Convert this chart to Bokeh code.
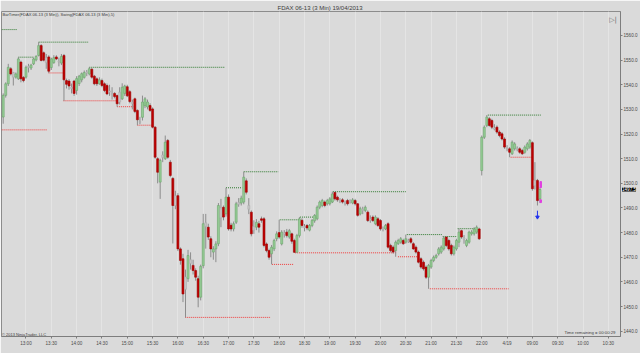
from bokeh.plotting import figure
from bokeh.models import Range1d, FixedTicker, NumeralTickFormatter, Label, ColumnDataSource
from bokeh.embed import file_html
from bokeh.resources import INLINE

# ---------------- data (3-min FDAX 06-13 bars) ----------------
open_ = [1526.9, 1535.7, 1540.4, 1546.5, 1545.0, 1543.1, 1542.4, 1549.2, 1543.0, 1543.1,
         1547.5, 1546.8, 1548.5, 1550.1, 1551.9, 1555.9, 1553.0, 1551.0, 1551.3, 1547.0,
         1549.0, 1551.3, 1549.5, 1548.8, 1551.9, 1541.7, 1541.5, 1539.0, 1541.5, 1537.7,
         1540.5, 1542.0, 1543.0, 1545.2, 1544.4, 1546.3, 1543.5, 1542.4, 1540.4, 1541.7,
         1540.4, 1539.7, 1537.5, 1536.5, 1536.5, 1535.6, 1533.0, 1534.3, 1536.5, 1539.2,
         1537.2, 1532.8, 1534.3, 1529.6, 1525.0, 1526.8, 1531.5, 1531.0, 1531.6, 1530.2,
         1522.8, 1510.0, 1500.5, 1511.5, 1510.0, 1517.4, 1508.6, 1502.0, 1491.0, 1495.0,
         1473.4, 1469.4, 1457.0, 1461.3, 1467.5, 1466.7, 1464.6, 1461.3, 1453.8, 1466.6,
         1484.0, 1482.2, 1477.5, 1472.1, 1473.4, 1475.5, 1490.0, 1490.3, 1487.6, 1494.4,
         1483.0, 1481.5, 1484.2, 1491.5, 1492.0, 1492.4, 1501.0, 1491.0, 1488.3, 1481.0,
         1482.2, 1483.6, 1485.6, 1485.6, 1475.4, 1472.7, 1471.4, 1473.4, 1477.5, 1480.0,
         1475.4, 1479.8, 1480.2, 1478.2, 1479.5, 1476.8, 1472.0, 1478.8, 1485.0, 1482.5,
         1482.9, 1481.0, 1482.9, 1484.8, 1485.6, 1490.3, 1491.0, 1492.4, 1491.7, 1491.7,
         1492.4, 1496.3, 1494.4, 1493.0, 1493.3, 1492.0, 1493.0, 1492.8, 1492.0, 1493.0,
         1491.7, 1487.6, 1489.5, 1489.0, 1488.3, 1485.5, 1486.3, 1483.6, 1485.6, 1484.9,
         1481.8, 1481.5, 1483.6, 1474.8, 1474.1, 1472.7, 1475.5, 1476.1, 1476.8, 1476.1,
         1476.8, 1477.5, 1475.5, 1474.1, 1472.1, 1469.4, 1468.0, 1466.0, 1461.9, 1466.0,
         1468.7, 1470.0, 1471.4, 1472.1, 1473.4, 1478.2, 1476.8, 1474.8, 1471.4, 1473.4,
         1476.1, 1480.8, 1477.8, 1474.8, 1476.1, 1479.5, 1479.5, 1480.2, 1481.5,
         1505.2, 1518.7, 1523.5, 1526.2, 1525.5, 1522.5, 1522.8, 1520.8, 1520.1, 1518.0,
         1514.4, 1514.0, 1512.0, 1514.0, 1514.2, 1514.0, 1513.3, 1512.6, 1514.0, 1514.7,
         1516.5, 1499.0, 1501.2, 1493.7]
high = [1536.5, 1541.0, 1548.5, 1547.2, 1545.2, 1545.0, 1551.2, 1549.8, 1543.5, 1547.8,
        1548.5, 1548.5, 1551.0, 1552.0, 1557.3, 1556.5, 1553.5, 1552.5, 1552.0, 1551.0,
        1552.0, 1552.0, 1551.0, 1552.5, 1552.5, 1542.5, 1542.3, 1540.5, 1542.0, 1543.5,
        1544.0, 1545.0, 1545.8, 1546.0, 1547.1, 1546.8, 1544.0, 1543.0, 1543.0, 1542.5,
        1541.0, 1540.5, 1540.0, 1539.0, 1537.0, 1536.0, 1539.0, 1540.6, 1540.0, 1540.0,
        1537.8, 1534.0, 1534.8, 1530.0, 1527.0, 1535.6, 1535.0, 1534.0, 1532.5, 1530.8,
        1523.2, 1510.6, 1510.0, 1513.0, 1519.4, 1518.0, 1509.5, 1502.5, 1497.0, 1496.0,
        1474.0, 1471.4, 1465.0, 1473.0, 1472.0, 1469.0, 1465.5, 1462.5, 1467.0, 1487.6,
        1487.6, 1483.6, 1478.5, 1474.5, 1476.5, 1492.0, 1493.7, 1491.0, 1498.2, 1495.5,
        1484.0, 1484.5, 1492.5, 1494.0, 1495.0, 1504.7, 1502.0, 1494.0, 1489.0, 1485.0,
        1485.5, 1484.8, 1486.5, 1486.3, 1476.0, 1473.5, 1475.0, 1477.5, 1480.5, 1485.2,
        1481.0, 1481.0, 1481.5, 1481.5, 1480.0, 1477.5, 1479.5, 1486.3, 1485.8, 1483.5,
        1483.5, 1483.5, 1485.5, 1487.5, 1491.0, 1493.0, 1493.7, 1493.0, 1493.7, 1494.4,
        1496.6, 1496.5, 1495.0, 1494.0, 1494.0, 1493.0, 1493.7, 1493.5, 1494.0, 1493.7,
        1492.0, 1490.5, 1490.5, 1491.0, 1489.0, 1487.0, 1487.0, 1487.0, 1486.3, 1485.5,
        1482.5, 1483.5, 1484.2, 1475.5, 1474.8, 1476.8, 1477.5, 1478.2, 1477.5, 1479.2,
        1477.5, 1478.2, 1476.1, 1474.8, 1472.7, 1470.0, 1468.7, 1466.7, 1467.3, 1469.4,
        1470.7, 1471.4, 1474.1, 1474.8, 1478.4, 1478.3, 1477.5, 1475.5, 1474.8, 1477.5,
        1481.6, 1481.2, 1479.0, 1477.5, 1480.8, 1481.0, 1482.2, 1482.9, 1482.0,
        1519.4, 1523.5, 1527.7, 1526.9, 1526.2, 1524.0, 1523.5, 1521.5, 1520.8, 1518.7,
        1515.5, 1514.7, 1517.4, 1516.7, 1515.0, 1514.7, 1514.0, 1515.4, 1516.7, 1518.0,
        1517.0, 1508.6, 1501.8, 1498.5]
low = [1524.2, 1534.8, 1539.5, 1543.8, 1539.7, 1542.5, 1542.0, 1541.0, 1541.0, 1542.5,
       1545.0, 1546.0, 1548.0, 1549.5, 1551.5, 1549.5, 1549.5, 1546.5, 1544.8, 1546.0,
       1548.5, 1550.0, 1547.5, 1548.0, 1533.5, 1538.5, 1538.0, 1536.5, 1535.5, 1536.0,
       1539.5, 1541.0, 1542.5, 1543.5, 1543.8, 1542.5, 1539.8, 1539.5, 1540.0, 1539.0,
       1537.0, 1535.8, 1535.5, 1534.0, 1534.5, 1531.1, 1532.0, 1533.8, 1535.5, 1535.0,
       1532.5, 1530.0, 1528.5, 1523.6, 1524.0, 1525.5, 1530.5, 1530.0, 1529.0, 1522.3,
       1510.0, 1500.0, 1493.7, 1508.6, 1509.5, 1510.0, 1502.5, 1475.6, 1489.5, 1472.5,
       1467.0, 1451.8, 1445.6, 1460.0, 1465.0, 1463.0, 1460.5, 1449.7, 1452.5, 1465.5,
       1473.5, 1477.0, 1470.0, 1469.0, 1468.0, 1474.5, 1482.2, 1485.0, 1486.5, 1480.8,
       1480.5, 1480.5, 1483.5, 1490.5, 1491.0, 1491.5, 1495.5, 1487.5, 1478.5, 1479.5,
       1481.0, 1480.0, 1484.0, 1474.0, 1472.0, 1469.0, 1467.1, 1472.5, 1476.5, 1477.5,
       1474.8, 1478.0, 1478.0, 1477.5, 1475.5, 1471.8, 1471.9, 1478.0, 1482.0, 1480.5,
       1481.0, 1480.5, 1482.2, 1484.0, 1485.0, 1489.5, 1490.3, 1490.3, 1491.0, 1491.0,
       1492.0, 1493.0, 1492.5, 1492.0, 1491.8, 1491.0, 1491.0, 1491.8, 1491.5, 1491.0,
       1486.5, 1487.0, 1487.5, 1488.3, 1484.3, 1484.0, 1484.3, 1483.0, 1482.3, 1480.8,
       1480.5, 1481.0, 1473.5, 1472.0, 1471.5, 1470.2, 1475.0, 1475.5, 1475.0, 1475.5,
       1475.8, 1475.5, 1473.0, 1471.5, 1467.5, 1465.3, 1464.6, 1461.2, 1457.2, 1465.3,
       1468.0, 1469.4, 1470.7, 1471.4, 1472.7, 1474.1, 1472.7, 1470.7, 1470.7, 1472.7,
       1474.1, 1477.5, 1475.5, 1474.1, 1475.5, 1478.8, 1478.8, 1479.5, 1477.0,
       1503.2, 1518.0, 1522.8, 1523.0, 1522.0, 1521.5, 1520.1, 1518.7, 1517.4, 1514.0,
       1513.0, 1510.6, 1511.5, 1513.3, 1513.0, 1512.0, 1511.5, 1512.0, 1513.3, 1514.0,
       1497.0, 1497.5, 1491.0, 1492.0]
close = [1535.7, 1540.4, 1547.1, 1544.4, 1543.1, 1544.4, 1550.5, 1542.4, 1541.7, 1547.1,
         1547.0, 1548.0, 1550.5, 1551.5, 1555.9, 1549.9, 1550.0, 1549.0, 1545.5, 1550.5,
         1551.0, 1550.5, 1549.2, 1551.5, 1542.0, 1540.2, 1539.5, 1538.5, 1536.5, 1542.5,
         1543.5, 1544.5, 1545.0, 1544.8, 1546.5, 1543.1, 1540.4, 1540.4, 1542.0, 1539.7,
         1537.7, 1536.3, 1537.0, 1536.0, 1535.2, 1532.3, 1537.0, 1539.0, 1539.5, 1535.5,
         1533.2, 1532.4, 1529.2, 1525.8, 1524.8, 1533.0, 1534.3, 1533.0, 1529.6, 1522.8,
         1510.6, 1504.5, 1509.3, 1510.5, 1516.7, 1510.6, 1503.2, 1491.0, 1495.0, 1473.4,
         1468.7, 1455.1, 1462.0, 1470.7, 1469.0, 1464.6, 1461.9, 1453.8, 1466.3, 1483.6,
         1482.5, 1478.2, 1473.4, 1473.4, 1475.4, 1491.0, 1486.0, 1486.3, 1494.4, 1481.5,
         1481.5, 1483.6, 1491.7, 1492.2, 1494.0, 1502.5, 1496.4, 1489.5, 1479.5, 1482.5,
         1484.2, 1482.2, 1485.0, 1474.8, 1472.7, 1470.0, 1474.1, 1476.8, 1479.5, 1478.2,
         1480.2, 1479.4, 1478.8, 1480.8, 1476.5, 1472.0, 1478.8, 1485.6, 1482.9, 1482.0,
         1481.9, 1482.9, 1485.0, 1487.0, 1490.3, 1492.4, 1493.0, 1491.0, 1493.0, 1493.7,
         1495.7, 1493.7, 1493.3, 1492.8, 1492.4, 1492.3, 1491.7, 1492.5, 1493.3, 1491.7,
         1487.0, 1489.7, 1489.0, 1490.3, 1484.9, 1485.0, 1484.9, 1486.3, 1482.9, 1481.5,
         1481.3, 1482.9, 1474.1, 1472.7, 1472.1, 1476.1, 1476.8, 1477.5, 1475.5, 1477.5,
         1476.4, 1476.1, 1473.4, 1472.1, 1468.0, 1466.0, 1465.3, 1461.9, 1466.7, 1468.7,
         1470.0, 1470.7, 1473.4, 1474.1, 1477.8, 1474.8, 1473.4, 1471.4, 1474.1, 1476.8,
         1480.2, 1478.2, 1477.3, 1476.8, 1480.2, 1480.2, 1481.5, 1482.2, 1477.5,
         1518.7, 1522.8, 1526.9, 1523.5, 1522.8, 1522.0, 1520.8, 1519.4, 1518.0, 1514.7,
         1514.0, 1512.6, 1516.7, 1516.0, 1513.8, 1512.6, 1512.0, 1514.7, 1516.0, 1517.4,
         1497.8, 1501.2, 1493.0, 1497.5]
# bars drawn with the neutral (grey) body
neutral = [4, 10, 17, 22, 27, 33, 42, 43, 46, 51, 54, 63, 68, 72, 74, 80, 86, 93, 97, 99,
           111, 119, 133, 135, 137, 142, 145, 150, 160, 182, 194, 199, 203, 210]

# Swing(5) levels: start bar, end bar, price
swing_hi_start = [-3.0, 6.0, 14.0, 34.0, 88.0, 95.0, 109.2, 117.2, 130.2, 159.4, 173.6, 179.5, 191.4]
swing_hi_end = [5.6, 12.2, 33.8, 87.7, 94.4, 108.6, 117.2, 124.3, 159.0, 173.2, 179.2, 186.3, 212.3]
swing_hi_price = [1562.4, 1551.2, 1557.3, 1547.1, 1498.2, 1504.7, 1485.2, 1486.3, 1496.6, 1479.2, 1478.4, 1481.6, 1527.7]
swing_lo_start = [-3.0, 17.9, 23.8, 45.0, 53.0, 71.9, 106.2, 115.3, 155.9, 168.5, 200.4]
swing_lo_end = [17.5, 23.8, 45.0, 51.4, 58.9, 105.4, 114.5, 155.5, 163.8, 199.6, 209.1]
swing_lo_price = [1521.7, 1544.8, 1533.5, 1531.1, 1523.6, 1445.6, 1467.1, 1471.8, 1470.2, 1457.2, 1510.6]

# signal markers on the live bars
arrow_bar = [211]
arrow_price = [1486.3]
tick_mark_bar = [212, 212]
tick_mark_top = [1500.7, 1493.3]
tick_mark_bottom = [1498.3, 1492.2]

# time axis
tick_labels = ["13:00", "13:30", "14:00", "14:30", "15:00", "15:30", "16:00", "16:30",
               "17:00", "17:30", "18:00", "18:30", "19:00", "19:30", "20:00", "20:30",
               "21:00", "21:30", "22:00", "4/19", "09:00", "09:30", "10:00", "10:30"]
tick_bars = [9, 19, 29, 39, 49, 59, 69, 79, 89, 99, 109, 119, 129, 139, 149, 159, 169,
             179, 189, 199, 209, 219, 229, 239]
price_ticks = [1440, 1450, 1460, 1470, 1480, 1490, 1500, 1510, 1520, 1530, 1540, 1550, 1560]

# ---------------- drawing ----------------
BG = "#dadada"
FONT = "Liberation Sans"
n = len(close)
idx = list(range(n))
fills, lines_c = [], []
for i in idx:
    if i in neutral:
        fills.append("#c6c6c6"); lines_c.append("#adadad")
    elif close[i] >= open_[i]:
        fills.append("#97cd97"); lines_c.append("#6aa66a")
    else:
        fills.append("#c00000"); lines_c.append("#9a0000")
src = ColumnDataSource(dict(
    x=idx, h=high, l=low,
    top=[max(o, c) for o, c in zip(open_, close)],
    bottom=[min(o, c) for o, c in zip(open_, close)],
    fill=fills, line=lines_c))

p = figure(width=640, height=353, output_backend="svg", toolbar_location=None,
           x_range=Range1d(-0.67, 243.8), y_range=Range1d(1437.84, 1569.74),
           y_axis_location="right",
           min_border_left=1, min_border_right=19, min_border_top=11, min_border_bottom=17,
           background_fill_color=BG, border_fill_color=BG,
           outline_line_color="#8c8c8c")

p.title.text = "FDAX 06-13 (3 Min) 19/04/2013"
p.title.align = "left"
p.title.offset = 276
p.title.standoff = 2
p.title.text_font = FONT
p.title.text_font_size = "6px"
p.title.text_font_style = "normal"
p.title.text_color = "#3c3c3c"

xa = p.xaxis[0]
xa.ticker = FixedTicker(ticks=tick_bars)
xa.major_label_overrides = {t: s for t, s in zip(tick_bars, tick_labels)}
ya = p.yaxis[0]
ya.ticker = FixedTicker(ticks=price_ticks)
ya.formatter = NumeralTickFormatter(format="0.0")
for ax in (xa, ya):
    ax.major_label_text_font = FONT
    ax.major_label_text_font_size = "4.6px"
    ax.major_label_text_color = "#4a4a4a"
    ax.axis_line_color = "#7d7d7d"
    ax.major_tick_line_color = "#7d7d7d"
    ax.minor_tick_line_color = None
    ax.major_tick_in = 0
    ax.major_tick_out = 2
xa.major_label_standoff = 2
ya.major_label_standoff = 1
p.xgrid.grid_line_color = "#e4e4e4"
p.ygrid.grid_line_color = None

# swing levels
p.segment(x0=swing_hi_start, y0=swing_hi_price, x1=swing_hi_end, y1=swing_hi_price,
          line_color="#2f7a2f", line_dash="1 1", line_width=1)
p.segment(x0=swing_lo_start, y0=swing_lo_price, x1=swing_lo_end, y1=swing_lo_price,
          line_color="#f03a3a", line_dash="1 1", line_width=1)

# candles
p.segment(x0="x", y0="l", x1="x", y1="h", source=src, line_color="#8c8c8c", line_width=1)
p.vbar(x="x", width=0.78, top="top", bottom="bottom", fill_color="fill",
       line_color="line", line_width=0.6, source=src)

# live-bar markers
p.segment(x0=arrow_bar, y0=[v + 2.6 for v in arrow_price], x1=arrow_bar, y1=arrow_price,
          line_color="#2233ee", line_width=1)
p.scatter(x=arrow_bar, y=arrow_price, marker="inverted_triangle", size=3.5,
          fill_color="#2233ee", line_color="#2233ee")
p.vbar(x=[b + 0.3 for b in tick_mark_bar], width=0.6, top=tick_mark_top,
       bottom=tick_mark_bottom, fill_color="#e040e0", line_color="#e040e0")

# texts inside the frame
fh = 325  # frame height in px
p.add_layout(Label(x=1, y=fh - 3, x_units="screen", y_units="screen",
                   text="BarTimer(FDAX 06-13 (3 Min)), Swing(FDAX 06-13 (3 Min),5)",
                   text_align="left", text_baseline="middle", text_font=FONT,
                   text_font_size="4.1px", text_color="#3c3c3c"))
p.add_layout(Label(x=0.5, y=2.2, x_units="screen", y_units="screen",
                   text="\u00a9 2013 NinjaTrader, LLC", text_align="left",
                   text_baseline="middle", text_font=FONT, text_font_size="4px",
                   text_color="#3c3c3c"))
p.add_layout(Label(x=614, y=4, x_units="screen", y_units="screen",
                   text="Time remaining = 00:00:29", text_align="right",
                   text_baseline="middle", text_font=FONT, text_font_size="4.3px",
                   text_color="#3c3c3c"))
p.add_layout(Label(x=611.5, y=fh - 8, x_units="screen", y_units="screen",
                   text="\u25b7|", text_align="center", text_baseline="middle",
                   text_font="DejaVu Sans", text_font_size="7px", text_color="#6e6e6e"))
# last-price tag drawn over the price axis (hosted in the bottom panel, which has spare room)
p.add_layout(Label(x=620.5, y=close[-1], x_units="screen", y_units="data",
                   text=f"{close[-1]:.1f}", text_align="left", text_baseline="middle",
                   text_font=FONT, text_font_size="4.6px", text_color="#ffffff",
                   background_fill_color="#000000"), "below")

open("out.html", "w").write(file_html(p, INLINE))
